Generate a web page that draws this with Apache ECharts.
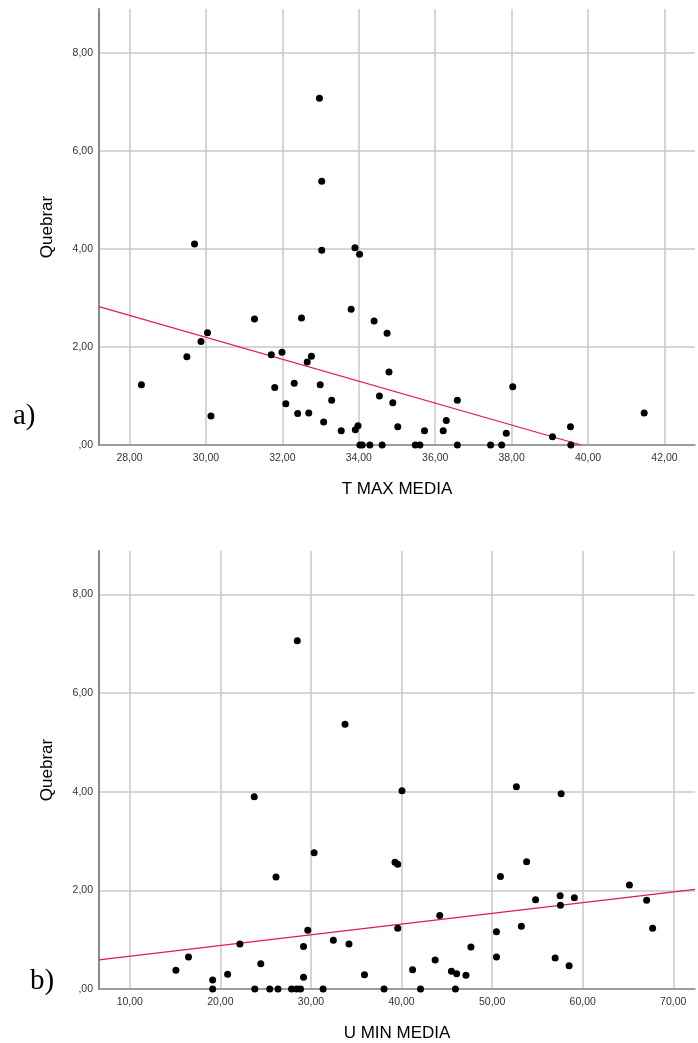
<!DOCTYPE html>
<html>
<head>
    <meta charset="utf-8">
    <title>Quebrar</title>
    <script src="https://cdn.jsdelivr.net/npm/echarts@6/dist/echarts.min.js"></script>
    <style>
        html, body { margin: 0; padding: 0; background: #fff; }
    </style>
</head>
<body>

<div id="main" style="width: 698px;height:1043px;"></div>

<script type="text/javascript">

    // a) T MAX MEDIA vs Quebrar
    var tmaxX = [32.97, 33.03, 29.70, 33.03, 33.90, 34.02, 28.31, 29.50, 29.87, 30.04,
                 30.13, 31.27, 31.71, 31.80, 31.99, 32.09, 32.31, 32.40, 32.50, 32.65,
                 32.69, 32.76, 32.99, 33.08, 33.29, 33.54, 33.80, 33.91, 33.98, 34.03,
                 34.09, 34.29, 34.40, 34.54, 34.61, 34.74, 34.79, 34.89, 35.02, 35.48,
                 35.60, 35.72, 36.21, 36.29, 36.58, 36.58, 37.45, 37.74, 37.86, 38.03,
                 39.07, 39.54, 39.55, 41.47];
    var tmaxY = [7.07, 5.38, 4.10, 3.97, 4.02, 3.89, 1.23, 1.80, 2.11, 2.29,
                 0.59, 2.57, 1.84, 1.17, 1.89, 0.84, 1.26, 0.64, 2.59, 1.69,
                 0.65, 1.81, 1.23, 0.47, 0.91, 0.29, 2.77, 0.31, 0.39, 0,
                 0, 0, 2.53, 1.00, 0, 2.28, 1.49, 0.86, 0.37, 0,
                 0, 0.29, 0.29, 0.50, 0.91, 0, 0, 0, 0.24, 1.19,
                 0.17, 0.37, 0, 0.65];
    var tmaxFit = [[27.2, 2.82], [39.82, 0]];

    // b) U MIN MEDIA vs Quebrar
    var uminX = [28.49, 33.76, 23.74, 40.05, 52.68, 57.62, 30.35, 26.14, 39.28, 39.58,
                 53.81, 50.92, 65.16, 54.80, 57.51, 57.54, 59.08, 67.06, 67.72, 44.22,
                 39.58, 29.65, 50.48, 53.23, 32.47, 34.20, 29.18, 47.66, 22.15, 50.48,
                 56.96, 16.48, 58.50, 24.46, 43.71, 41.22, 15.09, 45.51, 46.09, 47.11,
                 20.80, 35.91, 29.18, 19.15,
                 19.15, 23.80, 25.45, 26.36, 27.86, 28.41, 28.85, 31.34, 38.07, 42.10, 45.95];
    var uminY = [7.06, 5.37, 3.90, 4.02, 4.10, 3.96, 2.76, 2.27, 2.57, 2.53,
                 2.58, 2.28, 2.11, 1.81, 1.89, 1.70, 1.85, 1.80, 1.23, 1.49,
                 1.23, 1.19, 1.16, 1.27, 0.99, 0.91, 0.86, 0.85, 0.91, 0.65,
                 0.63, 0.65, 0.47, 0.51, 0.59, 0.39, 0.38, 0.36, 0.31, 0.28,
                 0.30, 0.29, 0.24, 0.18,
                 0, 0, 0, 0, 0, 0, 0, 0, 0, 0, 0];
    var uminFit = [[6.6, 0.59], [72.4, 2.02]];

    function pairs(xs, ys) {
        var out = [];
        for (var i = 0; i < xs.length; i++) out.push([xs[i], ys[i]]);
        return out;
    }

    function fmt(v) {
        if (Math.abs(v) < 1e-9) return ',00';
        return v.toFixed(2).replace('.', ',');
    }

    // label only on multiples of the major step
    function fmtEvery(major) {
        return function (v) {
            var r = v / major;
            if (Math.abs(r - Math.round(r)) > 1e-6) return '';
            return fmt(v);
        };
    }

    var gridColor = '#c8c8c8';
    var axisColor = '#8a8a8a';
    var tickFont = { fontFamily: 'Liberation Sans', fontSize: 10.5, color: '#333' };
    var nameFont = { fontFamily: 'Liberation Sans', fontSize: 17, color: '#000' };

    // split line colours cycle per tick: only the major ticks get a visible line
    function cycleColors(period, at) {
        var c = [];
        for (var i = 0; i < period; i++) c.push(i === at ? gridColor : 'rgba(0,0,0,0)');
        return c;
    }

    function xAxisOf(idx, name, min, max, step, major) {
        var period = Math.round(major / step);
        var first = Math.round((Math.ceil(min / major - 1e-9) * major - min) / step);
        return {
            gridIndex: idx, type: 'value', min: min, max: max, interval: step,
            name: name, nameLocation: 'middle', nameGap: 36, nameTextStyle: nameFont,
            axisLine: { show: true, onZero: false, lineStyle: { color: axisColor, width: 1.5 } },
            axisTick: { show: false },
            axisLabel: Object.assign({ margin: 8, interval: 0, formatter: fmtEvery(major) }, tickFont),
            splitLine: { show: true, lineStyle: { color: cycleColors(period, first), width: 1.5 } }
        };
    }

    function yAxisOf(idx, max) {
        return {
            gridIndex: idx, type: 'value', min: 0, max: max, interval: 2,
            name: 'Quebrar', nameLocation: 'middle', nameGap: 43, nameRotate: 90,
            nameTextStyle: nameFont,
            axisLine: { show: true, onZero: false, lineStyle: { color: axisColor, width: 2 } },
            axisTick: { show: false },
            axisLabel: Object.assign({ margin: 6, formatter: fmtEvery(2) }, tickFont),
            splitLine: { show: true, lineStyle: {
                color: [gridColor, gridColor, gridColor, gridColor, gridColor, 'rgba(0,0,0,0)'], width: 1.5 } }
        };
    }

    var myChart = echarts.init(document.getElementById('main'));

    myChart.setOption({
        animation: false,
        backgroundColor: '#fff',
        grid: [
            { left: 99, top: 9, width: 597, height: 436 },
            { left: 99, top: 551, width: 599, height: 438 }
        ],
        xAxis: [
            xAxisOf(0, 'T MAX MEDIA', 27.2, 42.8, 0.4, 2),
            xAxisOf(1, 'U MIN MEDIA', 6.6, 72.4, 0.2, 10)
        ],
        yAxis: [
            yAxisOf(0, 8.89),
            yAxisOf(1, 8.88)
        ],
        graphic: [
            { type: 'text', left: 13, top: 402, style: { text: 'a)', font: '29px "Liberation Serif"', fill: '#000' } },
            { type: 'text', left: 30, top: 967, style: { text: 'b)', font: '29px "Liberation Serif"', fill: '#000' } }
        ],
        series: [
            {
                type: 'line', xAxisIndex: 0, yAxisIndex: 0, data: tmaxFit,
                symbol: 'none', lineStyle: { color: '#e31b4b', width: 1.2 }, z: 3
            },
            {
                type: 'scatter', xAxisIndex: 0, yAxisIndex: 0, data: pairs(tmaxX, tmaxY),
                symbolSize: 7, itemStyle: { color: '#000', opacity: 1 }, z: 4
            },
            {
                type: 'line', xAxisIndex: 1, yAxisIndex: 1, data: uminFit,
                symbol: 'none', lineStyle: { color: '#e31b4b', width: 1.2 }, z: 3
            },
            {
                type: 'scatter', xAxisIndex: 1, yAxisIndex: 1, data: pairs(uminX, uminY),
                symbolSize: 7, itemStyle: { color: '#000', opacity: 1 }, z: 4
            }
        ]
    });

</script>
</body>
</html>
